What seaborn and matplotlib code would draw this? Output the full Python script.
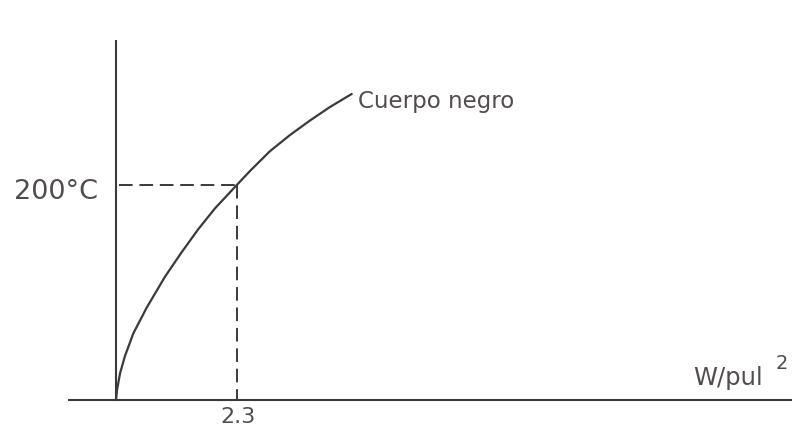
"""
plot.py  --  curva de cuerpo negro: temperatura vs. potencia radiada
"""
import numpy as np
import pandas as pd
import matplotlib
matplotlib.use("Agg")
import matplotlib.pyplot as plt
import seaborn as sns

# ---------------------------------------------------------------------------
# data (x in W/pul^2, y in degC)
# ---------------------------------------------------------------------------
power = [0.0, 0.019, 0.076, 0.171, 0.330, 0.585, 0.933, 1.251, 1.568,
         1.886, 2.3, 2.571, 2.933, 3.314, 3.695, 4.076, 4.49]
temp = [0, 9.3, 24.8, 41, 62, 86, 114.7, 137.5, 159,
        178.3, 200, 214, 231.5, 246.5, 260, 272.6, 284.7]
mark_x = 2.3
mark_y = 200
curve_label = "Cuerpo negro"
x_label = "W/pul"
y_tick_label = "200°C"

INK = "#3a3a3a"
TXT = "#524c4f"

df = pd.DataFrame({"power": power, "temp": temp})

sns.set_style("white")
plt.rcParams["font.family"] = ["DejaVu Sans"]

fig = plt.figure(figsize=(7.92, 4.28), dpi=100)
ax = fig.add_axes([0, 0, 1, 1])
ax.set_xlim(-2.21, 12.876)
ax.set_ylim(-26.05, 372.1)
ax.set_axis_off()

# axes drawn like the sketch
ax.plot([0, 0], [0, 335], color=INK, lw=1.5, solid_capstyle="butt")
ax.plot([-0.914, 12.876], [0, 0], color=INK, lw=1.5, solid_capstyle="butt")

# curve
sns.lineplot(data=df, x="power", y="temp", ax=ax, color=INK, lw=1.6,
             sort=False, estimator=None)

# dashed guides to the marked point
guide = dict(color=INK, lw=1.4)
l1, = ax.plot([0.05, mark_x], [mark_y, mark_y], **guide)
l2, = ax.plot([mark_x, mark_x], [mark_y, 0], **guide)
for l in (l1, l2):
    l.set_dashes((7, 3.5))

# labels
ax.text(-0.34, 193.5, y_tick_label, ha="right", va="center",
        fontsize=19.5, color=TXT)
ax.text(mark_x + 0.02, -6.5, f"{mark_x}", ha="center", va="top",
        fontsize=16, color=TXT)
ax.text(4.61, 278, curve_label, ha="left", va="center",
        fontsize=16.5, color=TXT)
ax.text(10.99, 20, x_label, ha="left", va="center", fontsize=17.5, color=TXT)
ax.text(12.57, 34, "2", ha="left", va="center", fontsize=14, color=TXT)

fig.savefig("out.png", dpi=100, facecolor="white")
